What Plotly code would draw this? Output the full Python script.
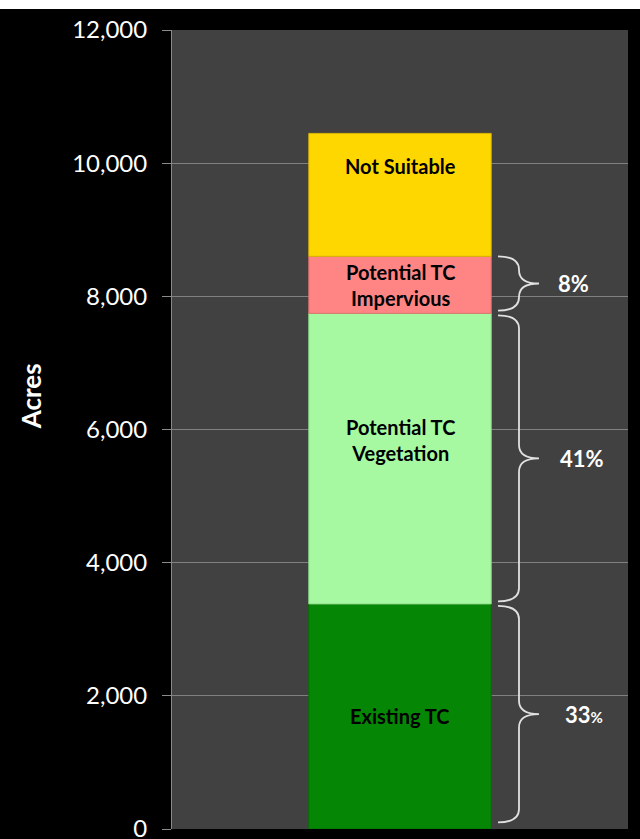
import plotly.graph_objects as go

# Data
categories = ["Existing TC", "Potential TC<br>Vegetation", "Potential TC<br>Impervious", "Not Suitable"]
values = [3380, 4365, 856, 1846]
colors = ["#058705", "#A6F9A0", "#FF8585", "#FFD700"]
edge_colors = ["#046F04", "#8EDC88", "#E07070", "#D9B400"]
brace_labels = ["33", "41%", "8%"]  # for Existing, Vegetation, Impervious
y_ticks = [0, 2000, 4000, 6000, 8000, 10000, 12000]
axis_title = "Acres"

W, H = 640, 839
ML, MR, MT, MB = 172, 12, 30, 10
PW = W - ML - MR

def px2paper(x):
    return (x - ML) / PW

fig = go.Figure()
cum = []
base = 0
for name, v, c, ec in zip(categories, values, colors, edge_colors):
    fig.add_trace(go.Bar(
        x=[0], y=[v], base=[base], name=name,
        marker=dict(color=c, line=dict(color=ec, width=1)),
        width=0.4, hoverinfo="skip", showlegend=False,
    ))
    cum.append((base, base + v))
    base += v

font_main = "Lato, 'Open Sans', sans-serif"
annotations = []
# Segment labels
label_offsets = [0, 19, 0, None]
for i, (name, (b0, b1)) in enumerate(zip(categories, cum)):
    if label_offsets[i] is None:
        annotations.append(dict(x=0, y=b1, xref="x", yref="y", text="<b>%s</b>" % name,
                                showarrow=False, yanchor="top", xanchor="center", yshift=-19,
                                font=dict(family=font_main, size=20, color="black")))
    else:
        annotations.append(dict(x=0, y=(b0 + b1) / 2, xref="x", yref="y", text="<b>%s</b>" % name,
                                showarrow=False, xanchor="center", yshift=label_offsets[i],
                                font=dict(family=font_main, size=20, color="black")))

# Braces
shapes = []
x0p, xmp, xtp = px2paper(498), px2paper(519), px2paper(539)
r = 200
brace_spans = [(cum[0][0] + 100, cum[0][1] - 30), (cum[1][0] + 40, cum[1][1] - 30), (cum[2][0] + 40, cum[2][1])]
for (ylo, yhi) in brace_spans:
    ym = (ylo + yhi) / 2
    rr = min(r, (yhi - ylo) / 4)
    path = (f"M {x0p},{yhi} Q {xmp},{yhi} {xmp},{yhi - rr} "
            f"L {xmp},{ym + rr} Q {xmp},{ym} {xtp},{ym} "
            f"Q {xmp},{ym} {xmp},{ym - rr} "
            f"L {xmp},{ylo + rr} Q {xmp},{ylo} {x0p},{ylo}")
    shapes.append(dict(type="path", path=path, xref="paper", yref="y",
                       line=dict(color="#E0E0E0", width=1.8)))

label_x = [px2paper(584), px2paper(582), px2paper(573)]
for (ylo, yhi), txt, lx in zip(brace_spans, brace_labels, label_x):
    ym = (ylo + yhi) / 2
    if txt == "33":
        t = "<b>33<span style='font-size:15px'>%</span></b>"
    else:
        t = "<b>%s</b>" % txt
    annotations.append(dict(x=lx, y=ym, xref="paper", yref="y", text=t, showarrow=False,
                            xanchor="center", yanchor="middle",
                            font=dict(family=font_main, size=22, color="white")))

# Axis title
annotations.append(dict(x=px2paper(31), y=6500, xref="paper", yref="y", text="<b>%s</b>" % axis_title,
                        textangle=-90, showarrow=False, xanchor="center", yanchor="middle",
                        font=dict(family=font_main, size=26, color="white")))

# White strip on top
shapes.append(dict(type="rect", xref="paper", yref="paper",
                   x0=-ML / PW, x1=1 + MR / PW, y0=1 + 21 / (H - MT - MB), y1=1 + 40 / (H - MT - MB),
                   fillcolor="white", line=dict(width=0), layer="above"))

fig.update_layout(
    width=W, height=H,
    margin=dict(l=ML, r=MR, t=MT, b=MB),
    paper_bgcolor="black", plot_bgcolor="#414141",
    barmode="overlay",
    shapes=shapes, annotations=annotations,
    xaxis=dict(range=[-0.5, 0.5], showticklabels=False, showgrid=False, zeroline=False,
               showline=False, fixedrange=True, automargin=False),
    yaxis=dict(range=[0, 12000], tickvals=y_ticks, tickformat=",d", automargin=False,
               showgrid=True, gridcolor="#808080", gridwidth=1, zeroline=False,
               showline=True, linecolor="#8A8A8A", linewidth=1,
               ticks="outside", ticklen=9, tickcolor="#8A8A8A",
               ticklabeloverflow="allow", ticklabelstandoff=10,
               tickfont=dict(family=font_main, size=24, color="white")),
)

fig.write_html("out.html")
